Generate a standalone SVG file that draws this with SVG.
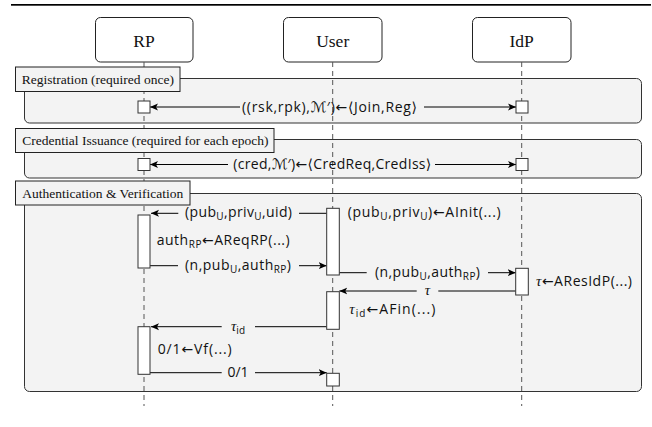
<svg xmlns="http://www.w3.org/2000/svg" width="652" height="427" viewBox="0 0 652 427">
<style>
.bg{fill:#ffffff}
.frame{fill:#f3f3f3;stroke:#333;stroke-width:1}
.lbl{fill:#f3f3f3;stroke:#222;stroke-width:1}
.node{fill:#fff;stroke:#222;stroke-width:1}
.life{stroke:#555;stroke-width:1;stroke-dasharray:5 4;fill:none}
.act{fill:#fff;stroke:#333;stroke-width:1}
.msg{stroke:#000;stroke-width:1;fill:none}
.name{font-family:"Liberation Serif",serif;font-size:17.5px;fill:#111;text-anchor:middle}
.ftxt{font-family:"Liberation Serif",serif;font-size:13.5px;fill:#111}
.m{font-family:"Open Sans","DejaVu Sans",sans-serif;font-size:14px;fill:#111}
.mid{text-anchor:middle}
.sub{font-size:10px}
.gr{font-family:"Liberation Serif",serif;font-style:italic;font-size:15px}
.cal{font-family:"DejaVu Sans",sans-serif;font-size:14.5px}
</style>
<defs>
<marker id="ah" markerWidth="9" markerHeight="8" refX="8" refY="4" orient="auto" markerUnits="userSpaceOnUse">
<path d="M0,0.5 L8,4 L0,7.5 L2,4 z" fill="#000"/>
</marker>
</defs>
<rect width="652" height="427" class="bg"/>
<rect x="11" y="4" width="640" height="1.7" fill="#000"/>

<g id="frames">
<rect class="frame" x="24.5" y="78.5" width="617" height="44.5" rx="5"/>
<rect class="frame" x="24.5" y="139.5" width="617" height="38.5" rx="5"/>
<rect class="frame" x="24.5" y="193.5" width="617" height="198" rx="5"/>
</g>

<g id="RP">
<rect class="node" x="95.5" y="17.5" width="97.5" height="44.5" rx="5"/>
<text class="name" x="144" y="47">RP</text>
<line class="life" x1="144" y1="62" x2="144" y2="406"/>
</g>
<g id="User">
<rect class="node" x="283.5" y="17.5" width="98.5" height="44.5" rx="5"/>
<text class="name" x="332.7" y="47">User</text>
<line class="life" x1="332.7" y1="62" x2="332.7" y2="406"/>
</g>
<g id="IdP">
<rect class="node" x="472.5" y="17.5" width="98.5" height="44.5" rx="5"/>
<text class="name" x="521.7" y="47">IdP</text>
<line class="life" x1="521.7" y1="62" x2="521.7" y2="406"/>
</g>

<g id="frame-labels">
<g id="lbl-registration">
<rect class="lbl" x="15.5" y="67" width="164.5" height="24.5"/>
<text class="ftxt" x="21.7" y="84">Registration (required once)</text>
</g>
<g id="lbl-credential">
<rect class="lbl" x="15.5" y="128.5" width="258.5" height="24"/>
<text class="ftxt" x="22.3" y="145">Credential Issuance (required for each epoch)</text>
</g>
<g id="lbl-auth">
<rect class="lbl" x="15.5" y="181" width="174.5" height="24"/>
<text class="ftxt" x="22.3" y="197.5">Authentication &amp; Verification</text>
</g>
</g>

<g id="connectors">
<line class="msg" x1="240" y1="107" x2="150" y2="107" marker-end="url(#ah)"/>
<line class="msg" x1="424" y1="107" x2="516" y2="107" marker-end="url(#ah)"/>
<line class="msg" x1="228" y1="164.5" x2="150" y2="164.5" marker-end="url(#ah)"/>
<line class="msg" x1="435" y1="164.5" x2="516" y2="164.5" marker-end="url(#ah)"/>
<line class="msg" x1="326.7" y1="213.3" x2="299" y2="213.3"/>
<line class="msg" x1="178.3" y1="213.3" x2="151" y2="213.3" marker-end="url(#ah)"/>
<line class="msg" x1="150" y1="265.7" x2="178" y2="265.7"/>
<line class="msg" x1="299" y1="265.7" x2="326.7" y2="265.7" marker-end="url(#ah)"/>
<line class="msg" x1="339.3" y1="272.7" x2="366.7" y2="272.7"/>
<line class="msg" x1="488" y1="272.7" x2="515.7" y2="272.7" marker-end="url(#ah)"/>
<line class="msg" x1="515.7" y1="291" x2="438.3" y2="291"/>
<line class="msg" x1="416.7" y1="291" x2="339.3" y2="291" marker-end="url(#ah)"/>
<line class="msg" x1="326.7" y1="326.7" x2="255" y2="326.7"/>
<line class="msg" x1="221.7" y1="326.7" x2="151" y2="326.7" marker-end="url(#ah)"/>
<line class="msg" x1="150" y1="372.7" x2="221.7" y2="372.7"/>
<line class="msg" x1="255" y1="372.7" x2="326.7" y2="372.7" marker-end="url(#ah)"/>
</g>

<g id="activations">
<rect class="act" x="138" y="101" width="12" height="12"/>
<rect class="act" x="516" y="101" width="12" height="12"/>
<rect class="act" x="138" y="158.5" width="12" height="12"/>
<rect class="act" x="516" y="158.5" width="12" height="12"/>
<rect class="act" x="138" y="215" width="12" height="53"/>
<rect class="act" x="326.7" y="208.3" width="12.6" height="66.7"/>
<rect class="act" x="515.7" y="268.3" width="12.6" height="26.7"/>
<rect class="act" x="326.7" y="291.7" width="12.6" height="37.6"/>
<rect class="act" x="138" y="326.7" width="12" height="47.6"/>
<rect class="act" x="326.7" y="373.3" width="12.6" height="12.7"/>
</g>

<g id="labels">
<text class="m" x="242" y="111.5" textLength="175" lengthAdjust="spacing">((rsk,rpk),<tspan class="cal">ℳ</tspan>′)←⟨Join,Reg⟩</text>
<text class="m" x="233.3" y="168.5" textLength="198" lengthAdjust="spacing">(cred,<tspan class="cal">ℳ</tspan>′)←⟨CredReq,CredIss⟩</text>
<text class="m" x="185" y="217" textLength="107" lengthAdjust="spacing">(pub<tspan class="sub" dy="3">U</tspan><tspan dy="-3">,priv</tspan><tspan class="sub" dy="3">U</tspan><tspan dy="-3">,uid)</tspan></text>
<text class="m" x="347.7" y="217" textLength="153" lengthAdjust="spacing">(pub<tspan class="sub" dy="3">U</tspan><tspan dy="-3">,priv</tspan><tspan class="sub" dy="3">U</tspan><tspan dy="-3">)←AInit(...)</tspan></text>
<text class="m" x="156.7" y="245" textLength="133" lengthAdjust="spacing">auth<tspan class="sub" dy="3">RP</tspan><tspan dy="-3">←AReqRP(...)</tspan></text>
<text class="m" x="185" y="269.5" textLength="106" lengthAdjust="spacing">(n,pub<tspan class="sub" dy="3">U</tspan><tspan dy="-3">,auth</tspan><tspan class="sub" dy="3">RP</tspan><tspan dy="-3">)</tspan></text>
<text class="m" x="375" y="276.5" textLength="105" lengthAdjust="spacing">(n,pub<tspan class="sub" dy="3">U</tspan><tspan dy="-3">,auth</tspan><tspan class="sub" dy="3">RP</tspan><tspan dy="-3">)</tspan></text>
<text class="m" x="536" y="285.5" textLength="96" lengthAdjust="spacing"><tspan class="gr">τ</tspan>←AResIdP(...)</text>
<text class="m mid" x="427.5" y="295"><tspan class="gr">τ</tspan></text>
<text class="m" x="349.3" y="314" textLength="86" lengthAdjust="spacing"><tspan class="gr">τ</tspan><tspan class="sub" dy="3">id</tspan><tspan dy="-3">←AFin(...)</tspan></text>
<text class="m mid" x="238" y="330.5"><tspan class="gr">τ</tspan><tspan class="sub" dy="3">id</tspan></text>
<text class="m" x="157.7" y="354" textLength="74" lengthAdjust="spacing">0/1←Vf(...)</text>
<text class="m mid" x="238" y="376.5">0/1</text>
</g>
</svg>
